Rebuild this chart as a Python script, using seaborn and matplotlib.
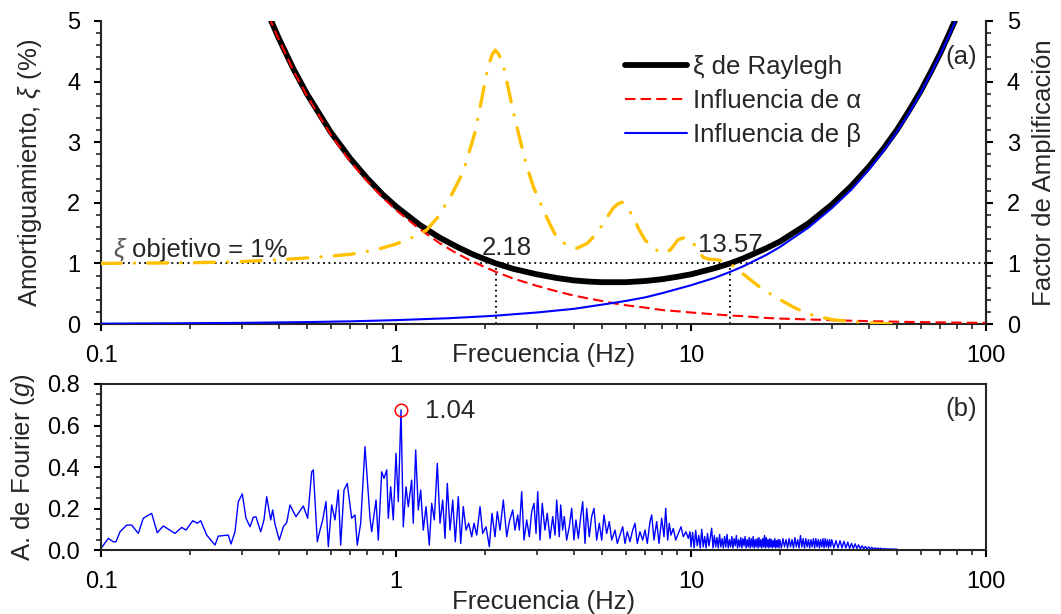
import matplotlib
matplotlib.use("Agg")
import matplotlib.pyplot as plt
import seaborn as sns
from matplotlib.ticker import MultipleLocator, LogLocator, FuncFormatter, NullFormatter

# ---------------- data ----------------
# Rayleigh damping (%), left axis of panel (a)
freq_total = [0.37, 0.4, 0.45, 0.5, 0.6, 0.7, 0.8, 0.9, 1.0, 1.2, 1.4, 1.6, 1.8, 2.0, 2.18, 2.5,
              3.0, 3.5, 4.0, 4.5, 5.0, 5.5, 6.0, 7.0, 8.0, 9.0, 10, 12, 13.57, 15, 18, 20, 25,
              30, 35, 40, 45, 50, 55, 60, 65, 70, 75, 80]
xi_total = [5.10, 4.72, 4.20, 3.79, 3.17, 2.73, 2.40, 2.14, 1.94, 1.64, 1.43, 1.28, 1.16, 1.07,
            1.00, 0.91, 0.82, 0.76, 0.72, 0.70, 0.69, 0.69, 0.69, 0.71, 0.74, 0.78, 0.82, 0.92,
            1.00, 1.08, 1.25, 1.36, 1.66, 1.97, 2.28, 2.59, 2.90, 3.21, 3.53, 3.84, 4.16, 4.47,
            4.79, 5.10]

freq_alpha = [0.37, 0.4, 0.45, 0.5, 0.6, 0.7, 0.8, 0.9, 1.0, 1.2, 1.4, 1.6, 1.8, 2.0, 2.18, 2.5,
              3.0, 3.5, 4.0, 4.5, 5.0, 5.5, 6.0, 7.0, 8.0, 9.0, 10, 12, 13.57, 15, 18, 20, 25,
              30, 35, 40, 45, 50, 60, 70, 80, 90, 100]
xi_alpha = [5.08, 4.70, 4.17, 3.76, 3.13, 2.68, 2.35, 2.09, 1.88, 1.57, 1.34, 1.17, 1.04, 0.94,
            0.86, 0.75, 0.63, 0.54, 0.47, 0.42, 0.38, 0.34, 0.31, 0.27, 0.23, 0.21, 0.19, 0.16,
            0.14, 0.13, 0.10, 0.09, 0.075, 0.063, 0.054, 0.047, 0.042, 0.038, 0.031, 0.027,
            0.023, 0.021, 0.019]

freq_beta = [0.1, 0.2, 0.3, 0.5, 0.7, 1.0, 1.5, 2.0, 2.18, 3.0, 4.0, 5.0, 6.0, 7.0, 8.0, 10, 12,
             13.57, 15, 18, 20, 25, 30, 35, 40, 45, 50, 55, 60, 65, 70, 75, 80]
xi_beta = [0.006, 0.013, 0.019, 0.032, 0.044, 0.064, 0.095, 0.127, 0.138, 0.19, 0.25, 0.32, 0.38,
           0.44, 0.51, 0.64, 0.76, 0.86, 0.95, 1.14, 1.27, 1.59, 1.91, 2.22, 2.54, 2.86, 3.18,
           3.49, 3.81, 4.13, 4.45, 4.76, 5.08]

# Amplification factor, right axis of panel (a)
freq_amp = [0.1, 0.2, 0.3, 0.4, 0.5, 0.6, 0.7, 0.85, 1.0, 1.15, 1.27, 1.39, 1.55, 1.69, 1.85,
            1.95, 2.05, 2.12, 2.17, 2.23, 2.31, 2.4, 2.49, 2.63, 2.78, 2.93, 3.08, 3.3, 3.51,
            3.8, 4.11, 4.45, 4.8, 5.1, 5.44, 5.65, 5.83, 6.05, 6.36, 6.65, 6.98, 7.45, 7.97,
            8.5, 9.04, 9.4, 9.69, 10.2, 10.6, 11.0, 11.5, 12.3, 13.0, 14.0, 14.9, 16.0, 17.1,
            18.1, 19.6, 22.2, 23.4, 26.0, 30.3, 35.0, 39.5, 44.5, 50.0]
amp = [1.00, 1.01, 1.03, 1.06, 1.09, 1.12, 1.15, 1.22, 1.32, 1.44, 1.55, 1.77, 2.15, 2.51, 3.15,
       3.70, 4.24, 4.45, 4.52, 4.45, 4.27, 3.90, 3.53, 3.05, 2.59, 2.25, 2.00, 1.68, 1.42, 1.30,
       1.25, 1.33, 1.50, 1.70, 1.91, 1.98, 2.01, 1.94, 1.77, 1.57, 1.39, 1.25, 1.17, 1.22, 1.39,
       1.42, 1.42, 1.33, 1.20, 1.10, 1.07, 1.06, 1.03, 0.95, 0.84, 0.72, 0.61, 0.53, 0.43, 0.28,
       0.23, 0.14, 0.07, 0.04, 0.02, 0.005, 0.0]

xi_objetivo = 1.0
freq_objetivo = [2.18, 13.57]

# Fourier amplitude spectrum (g), panel (b), read in segments
freq_f_low = [
    0.100, 0.1059, 0.110, 0.1124, 0.116, 0.1222, 0.1271, 0.1338, 0.1391, 0.1485, 0.1551, 0.1626,
    0.1781, 0.1877, 0.1942, 0.2046, 0.2121, 0.2178, 0.2282, 0.2435, 0.2498, 0.2701, 0.2759,
    0.2846, 0.292, 0.3013, 0.3101, 0.320, 0.3283, 0.3353, 0.3478, 0.3568, 0.3645, 0.3761,
    0.3819, 0.3888, 0.4021,
    0.415, 0.4261, 0.4372, 0.4486, 0.4581, 0.4664, 0.485, 0.5019, 0.5178, 0.5244, 0.541, 0.5526,
    0.5643, 0.579, 0.5895, 0.6053, 0.6211, 0.6373, 0.6493, 0.6663, 0.6837, 0.7076, 0.7261,
    0.7392, 0.7591, 0.785, 0.8165, 0.8273, 0.8556, 0.871, 0.8944, 0.9107, 0.9301, 0.9417,
    0.9594, 0.9791, 1.000, 1.018, 1.040]
amp_f_low = [
    0.008, 0.056, 0.040, 0.040, 0.088, 0.120, 0.120, 0.080, 0.153, 0.177, 0.083, 0.116,
    0.080, 0.109, 0.096, 0.141, 0.129, 0.141, 0.072, 0.024, 0.067, 0.072, 0.029,
    0.088, 0.233, 0.270, 0.153, 0.112, 0.158, 0.160, 0.088, 0.145, 0.257, 0.145,
    0.193, 0.125, 0.048,
    0.112, 0.132, 0.217, 0.185, 0.161, 0.177, 0.212, 0.153, 0.377, 0.386, 0.040, 0.096,
    0.145, 0.233, 0.016, 0.217, 0.145, 0.289, 0.024, 0.289, 0.321, 0.153, 0.169,
    0.024, 0.129, 0.498, 0.153, 0.088, 0.241, 0.048, 0.377, 0.345, 0.386, 0.153,
    0.305, 0.145, 0.466, 0.233, 0.675]

freq_f_mid = [
    1.0585, 1.0811, 1.1006, 1.1301, 1.1442, 1.1661, 1.190, 1.2125, 1.2373, 1.2638, 1.2968,
    1.3213, 1.3484, 1.3804, 1.4099, 1.4398, 1.4659, 1.4925, 1.5244, 1.5568, 1.5887, 1.6264,
    1.6571, 1.691, 1.7272, 1.764, 1.8059, 1.8386, 1.8779, 1.9266, 1.9677, 2.0191, 2.0719,
    2.1157, 2.166, 2.2052, 2.252, 2.3107, 2.3732, 2.4218, 2.4868, 2.5318, 2.5855,
    2.618, 2.667, 2.716, 2.774, 2.831, 2.884, 2.936, 2.983, 3.022, 3.077, 3.132, 3.198, 3.256,
    3.327, 3.398, 3.459, 3.505, 3.577, 3.616, 3.673, 3.719, 3.789, 3.867, 3.940, 4.011, 4.074,
    4.150, 4.228, 4.294, 4.372, 4.430, 4.520, 4.605, 4.689, 4.789, 4.888, 4.980, 5.070, 5.178,
    5.285, 5.385, 5.526, 5.626, 5.745, 5.868, 5.974, 6.082, 6.211, 6.343, 6.458, 6.576, 6.715,
    6.859, 6.984, 7.110, 7.261, 7.358, 7.492, 7.650, 7.789, 7.955, 8.100, 8.207, 8.337, 8.441,
    8.553, 8.710, 8.874, 9.056, 9.250, 9.418, 9.619, 9.792, 9.922]
amp_f_mid = [
    0.112, 0.305, 0.209, 0.337, 0.129, 0.482, 0.193, 0.289, 0.096, 0.209, 0.024,
    0.225, 0.145, 0.418, 0.129, 0.241, 0.056, 0.321, 0.096, 0.241, 0.040, 0.257,
    0.032, 0.209, 0.096, 0.129, 0.064, 0.129, 0.072, 0.209, 0.080, 0.112, 0.016,
    0.177, 0.064, 0.185, 0.096, 0.241, 0.064, 0.137, 0.193, 0.096, 0.169,
    0.096, 0.281, 0.048, 0.145, 0.064, 0.185, 0.225, 0.080, 0.281, 0.048, 0.225, 0.096, 0.177,
    0.056, 0.161, 0.072, 0.241, 0.064, 0.217, 0.096, 0.161, 0.048, 0.112, 0.201, 0.048, 0.145,
    0.056, 0.161, 0.233, 0.032, 0.201, 0.064, 0.161, 0.201, 0.048, 0.129, 0.048, 0.169, 0.080,
    0.137, 0.048, 0.096, 0.032, 0.072, 0.112, 0.032, 0.088, 0.040, 0.096, 0.129, 0.032, 0.088,
    0.048, 0.096, 0.032, 0.137, 0.169, 0.048, 0.137, 0.032, 0.153, 0.064, 0.201, 0.048, 0.129,
    0.072, 0.104, 0.048, 0.080, 0.112, 0.064, 0.088, 0.056, 0.088]

freq_f_10_20 = [
    10.000, 10.125, 10.250, 10.375, 10.500, 10.625, 10.750, 10.875,
    11.000, 11.125, 11.250, 11.375, 11.500, 11.625, 11.750, 11.875,
    12.000, 12.125, 12.250, 12.375, 12.500, 12.625, 12.750, 12.875,
    13.000, 13.125, 13.250, 13.375, 13.500, 13.625, 13.750, 13.875,
    14.000, 14.125, 14.250, 14.375, 14.500, 14.625, 14.750, 14.875,
    15.000, 15.125, 15.250, 15.375, 15.500, 15.625, 15.750, 15.875,
    16.000, 16.125, 16.250, 16.375, 16.500, 16.625, 16.750, 16.875,
    17.000, 17.125, 17.250, 17.375, 17.500, 17.625, 17.750, 17.875,
    18.000, 18.125, 18.250, 18.375, 18.500, 18.625, 18.750, 18.875,
    19.000, 19.125, 19.250, 19.375, 19.500, 19.625, 19.750, 19.875,
    20.000]
amp_f_10_20 = [
    0.015, 0.085, 0.010, 0.095, 0.020, 0.070, 0.010, 0.100,
    0.015, 0.065, 0.010, 0.080, 0.020, 0.060, 0.105, 0.010,
    0.070, 0.015, 0.060, 0.010, 0.075, 0.015, 0.055, 0.010,
    0.065, 0.015, 0.075, 0.010, 0.050, 0.015, 0.065, 0.010,
    0.055, 0.020, 0.070, 0.010, 0.050, 0.015, 0.060, 0.010,
    0.055, 0.020, 0.065, 0.010, 0.050, 0.015, 0.060, 0.010,
    0.055, 0.015, 0.065, 0.010, 0.050, 0.015, 0.055, 0.010,
    0.060, 0.015, 0.050, 0.010, 0.055, 0.015, 0.070, 0.010,
    0.060, 0.015, 0.050, 0.010, 0.055, 0.015, 0.050, 0.010,
    0.045, 0.015, 0.055, 0.010, 0.045, 0.015, 0.050, 0.010,
    0.050]

freq_f_20_30 = [
    20.25, 20.50, 20.75, 21.00, 21.25, 21.50, 21.75, 22.00,
    22.25, 22.50, 22.75, 23.00, 23.25, 23.50, 23.75, 24.00,
    24.25, 24.50, 24.75, 25.00, 25.25, 25.50, 25.75, 26.00,
    26.25, 26.50, 26.75, 27.00, 27.25, 27.50, 27.75, 28.00,
    28.25, 28.50, 28.75, 29.00, 29.25, 29.50, 29.75, 30.00]
amp_f_20_30 = [
    0.010, 0.055, 0.015, 0.050, 0.010, 0.055, 0.015, 0.050,
    0.010, 0.060, 0.015, 0.050, 0.010, 0.070, 0.015, 0.055,
    0.010, 0.055, 0.015, 0.050, 0.010, 0.050, 0.015, 0.055,
    0.010, 0.055, 0.015, 0.050, 0.010, 0.050, 0.015, 0.055,
    0.010, 0.055, 0.015, 0.050, 0.010, 0.050, 0.015, 0.050]

freq_f_30_50 = [
    30.5, 31.0, 31.5, 32.0, 32.5, 33.0, 33.5, 34.0, 34.5, 35.0,
    35.5, 36.0, 36.5, 37.0, 37.5, 38.0, 38.5, 39.0, 39.5, 40.0,
    40.5, 41.0, 41.5, 42.0, 42.5, 43.0, 43.5, 44.0, 44.5, 45.0,
    45.5, 46.0, 46.5, 47.0, 47.5, 48.0, 48.5, 49.0, 49.5, 50.0]
amp_f_30_50 = [
    0.010, 0.045, 0.010, 0.045, 0.010, 0.042, 0.010, 0.038, 0.008, 0.032,
    0.008, 0.030, 0.008, 0.025, 0.006, 0.020, 0.006, 0.017, 0.005, 0.015,
    0.005, 0.013, 0.004, 0.011, 0.004, 0.010, 0.004, 0.009, 0.003, 0.008,
    0.003, 0.007, 0.003, 0.006, 0.003, 0.006, 0.003, 0.005, 0.003, 0.004]

freq_fourier = freq_f_low + freq_f_mid + freq_f_10_20 + freq_f_20_30 + freq_f_30_50
amp_fourier = amp_f_low + amp_f_mid + amp_f_10_20 + amp_f_20_30 + amp_f_30_50

peak_freq = 1.04
peak_amp = 0.675

# ---------------- style ----------------
sns.set_style("ticks")
plt.rcParams['font.family'] = ['Liberation Sans', 'DejaVu Sans']
plt.rcParams['mathtext.fontset'] = 'custom'
plt.rcParams['mathtext.rm'] = 'Liberation Sans'
plt.rcParams['mathtext.it'] = 'Liberation Sans:italic'
plt.rcParams['axes.linewidth'] = 1.5

FS_TICK = 17
FS_LAB = 18.5

fig = plt.figure(figsize=(10.61, 6.14), dpi=100)
ax = fig.add_axes([0.0952, 0.4723, 0.8341, 0.4935])
axr = ax.twinx()
axb = fig.add_axes([0.0952, 0.1042, 0.8341, 0.2704])

# ---------------- panel (a) ----------------
ax.axhline(xi_objetivo, color='black', lw=1.3, ls=(0, (1, 2)), zorder=1)
ax.vlines(freq_objetivo, 0, xi_objetivo, color='black', lw=1.3, ls=(0, (1, 2)), zorder=1)

sns.lineplot(x=freq_total, y=xi_total, ax=ax, color='black', lw=4.2, sort=False,
             estimator=None, zorder=2)
l_tot = ax.lines[-1]
sns.lineplot(x=freq_alpha, y=xi_alpha, ax=ax, color='#FF0000', lw=1.5, sort=False,
             estimator=None, linestyle=(0, (5, 2.5)), zorder=3)
l_alp = ax.lines[-1]
sns.lineplot(x=freq_beta, y=xi_beta, ax=ax, color='#0000FF', lw=1.5, sort=False,
             estimator=None, zorder=4)
l_bet = ax.lines[-1]

sns.lineplot(x=freq_amp, y=amp, ax=axr, color='#FFC000', lw=2.4, sort=False, estimator=None,
             linestyle=(0, (6, 4, 0.01, 4)), dash_capstyle='round')

for a in (ax, axr):
    a.set_xscale('log')
    a.set_xlim(0.1, 100)
    a.set_ylim(0, 5)
    a.yaxis.set_major_locator(MultipleLocator(1))
    a.yaxis.set_minor_locator(MultipleLocator(0.2))
    a.spines['top'].set_visible(False)

axr.spines['left'].set_visible(False)
axr.spines['bottom'].set_visible(False)

for a in (ax, axb):
    a.set_xscale('log')
    a.set_xlim(0.1, 100)
    a.xaxis.set_major_locator(LogLocator(base=10, numticks=10))
    a.xaxis.set_minor_locator(LogLocator(base=10, subs=range(2, 10), numticks=20))
    a.xaxis.set_major_formatter(FuncFormatter(lambda v, p: f"{v:g}"))
    a.xaxis.set_minor_formatter(NullFormatter())

for a in (ax, axr, axb):
    a.tick_params(which='major', direction='out', length=5, width=1.5, labelsize=FS_TICK,
                  pad=10, colors='black')
    a.tick_params(which='minor', direction='out', length=3.3, width=1.2)
    a.set_facecolor('none')

ax.yaxis.set_major_formatter(FuncFormatter(lambda v, p: f"{v:.0f}"))
axr.yaxis.set_major_formatter(FuncFormatter(lambda v, p: f"{v:.0f}"))

ax.set_xlabel("Frecuencia (Hz)", fontsize=FS_LAB)
ax.xaxis.set_label_coords(0.5, -0.102)
ax.xaxis.label.set_va('center')
ax.set_ylabel(r"Amortiguamiento, $\xi$ (%)", fontsize=FS_LAB)
ax.yaxis.set_label_coords(-0.080, 0.5)
ax.yaxis.label.set_va('center')
axr.set_ylabel("Factor de Amplificación", fontsize=FS_LAB)
axr.yaxis.set_label_coords(1.066, 0.5)
axr.yaxis.label.set_va('center')

ax.legend([l_tot, l_alp, l_bet], ["ξ de Raylegh", "Influencia de α", "Influencia de β"],
          loc='upper left', bbox_to_anchor=(0.592, 0.888), frameon=False, fontsize=FS_LAB,
          handlelength=2.4, handletextpad=0.25, labelspacing=0.4, borderpad=0,
          borderaxespad=0)

ax.text(0.1098, 1.11, "ξ", fontsize=FS_LAB, style='italic', color='#595959', va='baseline')
ax.text(0.1274, 1.11, "objetivo = 1%", fontsize=FS_LAB, va='baseline')
ax.text(1.96, 1.14, "2.18", fontsize=FS_LAB, va='baseline')
ax.text(10.56, 1.19, "13.57", fontsize=FS_LAB, va='baseline')
ax.text(93.2, 4.41, "(a)", fontsize=FS_LAB, ha='right', va='center')

# ---------------- panel (b) ----------------
sns.lineplot(x=freq_fourier, y=amp_fourier, ax=axb, color='#0000FF', lw=1.0, sort=False,
             estimator=None)
axb.plot([peak_freq], [peak_amp], 'o', mfc='none', mec='#FF0000', ms=9, mew=1.1)
axb.set_ylim(0, 0.8)
axb.yaxis.set_major_locator(MultipleLocator(0.2))
axb.yaxis.set_minor_locator(MultipleLocator(0.05))
axb.yaxis.set_major_formatter(FuncFormatter(lambda v, p: f"{v:.1f}"))
axb.set_xlabel("Frecuencia (Hz)", fontsize=FS_LAB)
axb.xaxis.set_label_coords(0.5, -0.313)
axb.xaxis.label.set_va('center')
axb.set_ylabel(r"A. de Fourier ($\mathit{g}$)", fontsize=FS_LAB)
axb.yaxis.set_label_coords(-0.088, 0.5)
axb.yaxis.label.set_va('center')
axb.text(1.254, 0.67, "1.04", fontsize=FS_LAB, va='center')
axb.text(93.2, 0.68, "(b)", fontsize=FS_LAB, ha='right', va='center')

fig.savefig("out.png", dpi=100)
